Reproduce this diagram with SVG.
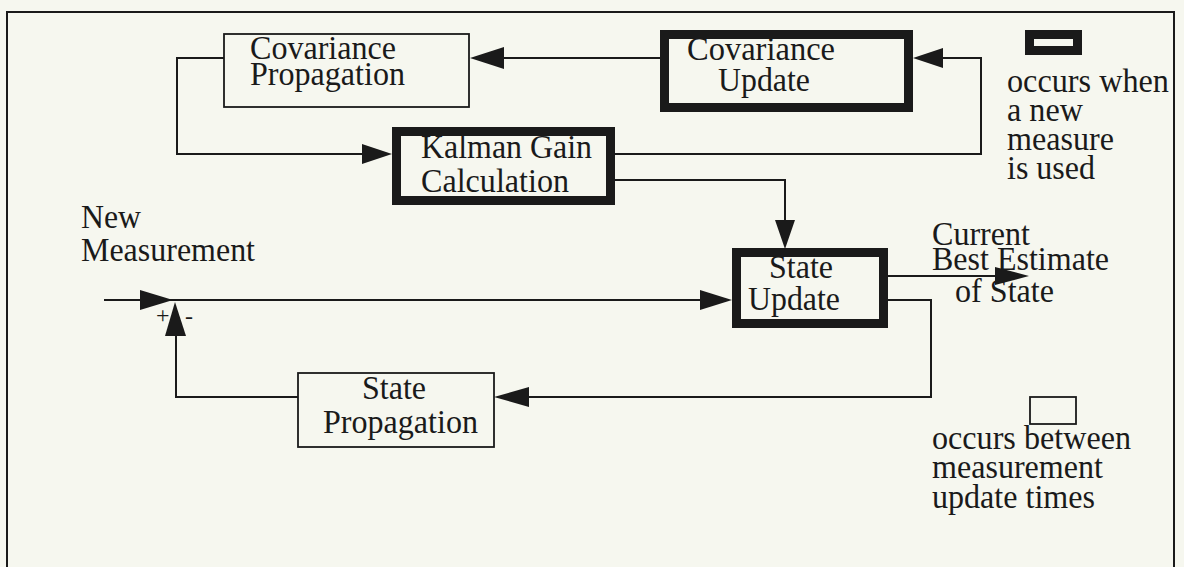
<svg xmlns="http://www.w3.org/2000/svg" width="1184" height="567" viewBox="0 0 1184 567">
<defs>
<style>
.t{font-family:"Liberation Serif","Times New Roman",serif;font-size:34px;fill:#1a1a1a}
.s{font-family:"Liberation Serif","Times New Roman",serif;font-size:24px;fill:#1a1a1a}
.thin{fill:none;stroke:#1a1a1a;stroke-width:1.8}
.thick{fill:none;stroke:#1a1a1a;stroke-width:9}
.ln{fill:none;stroke:#1a1a1a;stroke-width:2}
.ah{fill:#1a1a1a}
</style>
</defs>
<rect x="0" y="0" width="1184" height="567" fill="#f6f7ef"/>
<g id="frame">
<polyline class="ln" points="7,567 7,12 1174,12 1174,567" stroke-width="2.5"/>
</g>
<g id="connectors">
<line class="ln" x1="660" y1="58" x2="500" y2="58"/>
<polygon class="ah" points="470,58 504,47 504,69"/>
<polyline class="ln" points="224,58 177,58 177,154 365,154"/>
<polygon class="ah" points="392,154 362,144 362,164"/>
<polyline class="ln" points="615,154 981,154 981,58 940,58"/>
<polygon class="ah" points="913,58 943,48 943,68"/>
<polyline class="ln" points="615,180 785,180 785,222"/>
<polygon class="ah" points="785,249 775,220 795,220"/>
<line class="ln" x1="888" y1="276" x2="1000" y2="276"/>
<polygon class="ah" points="1029,276 995,267 995,285"/>
<polyline class="ln" points="888,300 931,300 931,397 525,397"/>
<polygon class="ah" points="494,397 529,387 529,407"/>
<polyline class="ln" points="298,397 176,397 176,330"/>
<text class="s" x="156" y="323">+</text>
<text class="s" x="185" y="324">-</text>
<polygon class="ah" points="175,302 165,336 186,336"/>
<line class="ln" x1="104" y1="300" x2="705" y2="300"/>
<polygon class="ah" points="173,300 140,290 140,310"/>
<polygon class="ah" points="732,300 700,290 700,310"/>
</g>
<g id="cov-prop">
<text class="t" x="250" y="59" textLength="146" lengthAdjust="spacingAndGlyphs">Covariance</text>
<text class="t" x="250" y="85" textLength="155" lengthAdjust="spacingAndGlyphs">Propagation</text>
<rect class="thin" x="224" y="34" width="245" height="73"/>
</g>
<g id="cov-update">
<text class="t" x="687" y="60" textLength="148" lengthAdjust="spacingAndGlyphs">Covariance</text>
<text class="t" x="718" y="91" textLength="92" lengthAdjust="spacingAndGlyphs">Update</text>
<rect class="thick" x="664.5" y="34.5" width="244" height="73"/>
</g>
<g id="kalman">
<text class="t" x="421" y="158" textLength="171" lengthAdjust="spacingAndGlyphs">Kalman Gain</text>
<text class="t" x="421" y="192" textLength="148" lengthAdjust="spacingAndGlyphs">Calculation</text>
<rect class="thick" x="396.5" y="131.5" width="214" height="69"/>
</g>
<g id="state-update">
<text class="t" x="769" y="278" textLength="64" lengthAdjust="spacingAndGlyphs">State</text>
<text class="t" x="748" y="310" textLength="92" lengthAdjust="spacingAndGlyphs">Update</text>
<rect class="thick" x="736.5" y="252.5" width="147" height="71"/>
</g>
<g id="state-prop">
<text class="t" x="362" y="399" textLength="64" lengthAdjust="spacingAndGlyphs">State</text>
<text class="t" x="323" y="433" textLength="155" lengthAdjust="spacingAndGlyphs">Propagation</text>
<rect class="thin" x="298" y="373" width="196" height="74"/>
</g>
<g id="labels">
<text class="t" x="81" y="228" textLength="60" lengthAdjust="spacingAndGlyphs">New</text>
<text class="t" x="81" y="261" textLength="174" lengthAdjust="spacingAndGlyphs">Measurement</text>
<text class="t" x="932" y="245" textLength="98" lengthAdjust="spacingAndGlyphs">Current</text>
<text class="t" x="932" y="270" textLength="177" lengthAdjust="spacingAndGlyphs">Best Estimate</text>
<text class="t" x="955" y="302" textLength="99" lengthAdjust="spacingAndGlyphs">of State</text>
</g>
<g id="legend">
<rect class="thick" x="1029.5" y="34.5" width="48" height="16"/>
<text class="t" x="1007" y="92" textLength="162" lengthAdjust="spacingAndGlyphs">occurs when</text>
<text class="t" x="1007" y="121" textLength="76" lengthAdjust="spacingAndGlyphs">a new</text>
<text class="t" x="1007" y="150" textLength="107" lengthAdjust="spacingAndGlyphs">measure</text>
<text class="t" x="1007" y="179" textLength="88" lengthAdjust="spacingAndGlyphs">is used</text>
<rect class="thin" x="1030" y="397" width="46" height="27"/>
<text class="t" x="932" y="449" textLength="199" lengthAdjust="spacingAndGlyphs">occurs between</text>
<text class="t" x="932" y="478" textLength="171" lengthAdjust="spacingAndGlyphs">measurement</text>
<text class="t" x="932" y="508" textLength="163" lengthAdjust="spacingAndGlyphs">update times</text>
</g>
</svg>
